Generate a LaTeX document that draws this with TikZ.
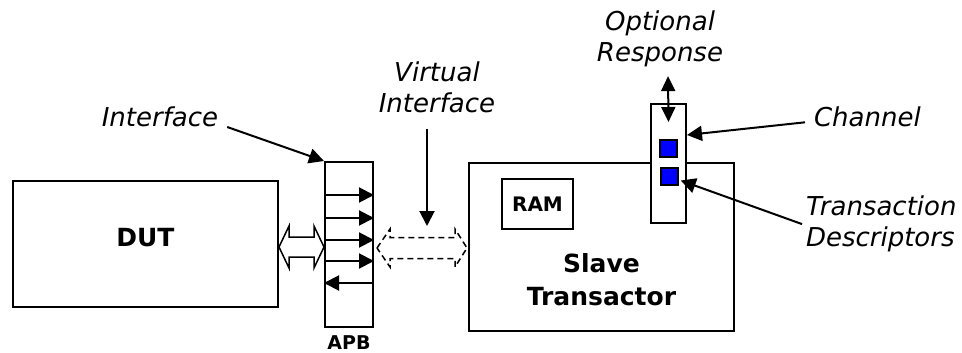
\documentclass[tikz,border=0pt]{standalone}
\usepackage{fontspec}
\setmainfont{DejaVu Sans}
\usetikzlibrary{arrows.meta,calc,positioning}

\begin{document}
\begin{tikzpicture}[x=1pt,y=-1pt,line width=2pt,
  box/.style={draw,rectangle,inner sep=0pt},
  tag/.style={font=\fontsize{26}{31}\selectfont\itshape,inner sep=0pt},
  bigbold/.style={font=\fontsize{25}{33}\selectfont\bfseries},
  sig/.style={-{Triangle[length=15pt,width=15pt]}},
  desc/.style={box,line width=1.5pt,fill=blue,minimum size=17pt}]
\useasboundingbox (0,0) rectangle (962,353);
% boxes
\node (dut) at (145.5,244) [box,minimum width=265pt,minimum height=126pt,
  label={[bigbold,yshift=6pt]center:DUT}] {};
\node (apb) at (349,244.5) [box,minimum width=48pt,minimum height=165pt] {};
\node (apbname) [below=7pt of apb,inner sep=0pt,font=\fontsize{19}{22}\selectfont\bfseries] {APB};
\node (slave) at (601.5,247) [box,minimum width=265pt,minimum height=168pt,
  label={[bigbold,align=center,yshift=-33pt]center:Slave\\Transactor}] {};
\node (ram) at (537.5,204) [box,minimum width=71pt,minimum height=50pt,
  font=\fontsize{20}{24}\selectfont\bfseries] {RAM};
\node (chan) at (668.5,163.5) [box,fill=white,minimum width=35pt,minimum height=119pt] {};
\node (q1) at (668.5,148.5) [desc] {};
\node (q2) at (669.5,176.5) [desc] {};
% labels
\node (iface) at (160,126) [tag,anchor=base] {Interface};
\node (vname) at (437,61) [tag,anchor=north,align=center] {Virtual\\Interface};
\node (resp) at (660,10) [tag,anchor=north,align=center] {Optional\\Response};
\node (chname) at (813,127) [tag,anchor=base west] {Channel};
\node (tdname) at (805,195) [tag,anchor=north west,align=left] {Transaction\\Descriptors};
% signals in the APB interface
\foreach \y in {195,218,240,261}
  \draw[sig] (apb.west |- 0,\y) -- (apb.east |- 0,\y);
\draw[sig] (apb.east |- 0,283) -- (apb.west |- 0,283);
% DUT <-> APB
\coordinate (l1) at (dut.east |- 0,247);
\coordinate (r1) at (apb.west |- 0,247);
\draw[line width=1.5pt,fill=white] (l1) -- ++(10,-21) -- ++(0,11) -- ($(r1)+(-10,-10)$)
  -- ++(0,-11) -- (r1) -- ++(-10,21) -- ++(0,-11) -- ($(l1)+(10,10)$) -- ++(0,11) -- cycle;
% virtual interface
\coordinate (l2) at (377,248);
\coordinate (r2) at (467,248);
\draw[line width=1.5pt,dash pattern=on 6pt off 4pt] (l2) -- ++(13,-19) -- ++(0,8.5) -- ($(r2)+(-12,-10.5)$)
  -- ++(0,-8.5) -- (r2) -- ++(-12,19) -- ++(0,-8.5) -- ($(l2)+(13,10.5)$) -- ++(0,8.5) -- cycle;
\coordinate (vtip) at (427,226);
% pointers
\draw[sig] ([shift={(8,1)}]iface.base east) -- (apb.north west);
\draw[sig] ([shift={(-10,15)}]vname.south) -- (vtip);
\draw[{Triangle[length=15pt,width=14pt]}-{Triangle[length=15pt,width=14pt]}]
  ([shift={(8,8)}]resp.south) -- ([yshift=-19pt]chan.north);
\draw[sig] ([shift={(-8,5)}]chname.west) -- (chan.east |- 0,135);
\draw[sig] ([xshift=-3pt]tdname.west) -- ([shift={(2,4)}]q2.east);
\end{tikzpicture}
\end{document}
